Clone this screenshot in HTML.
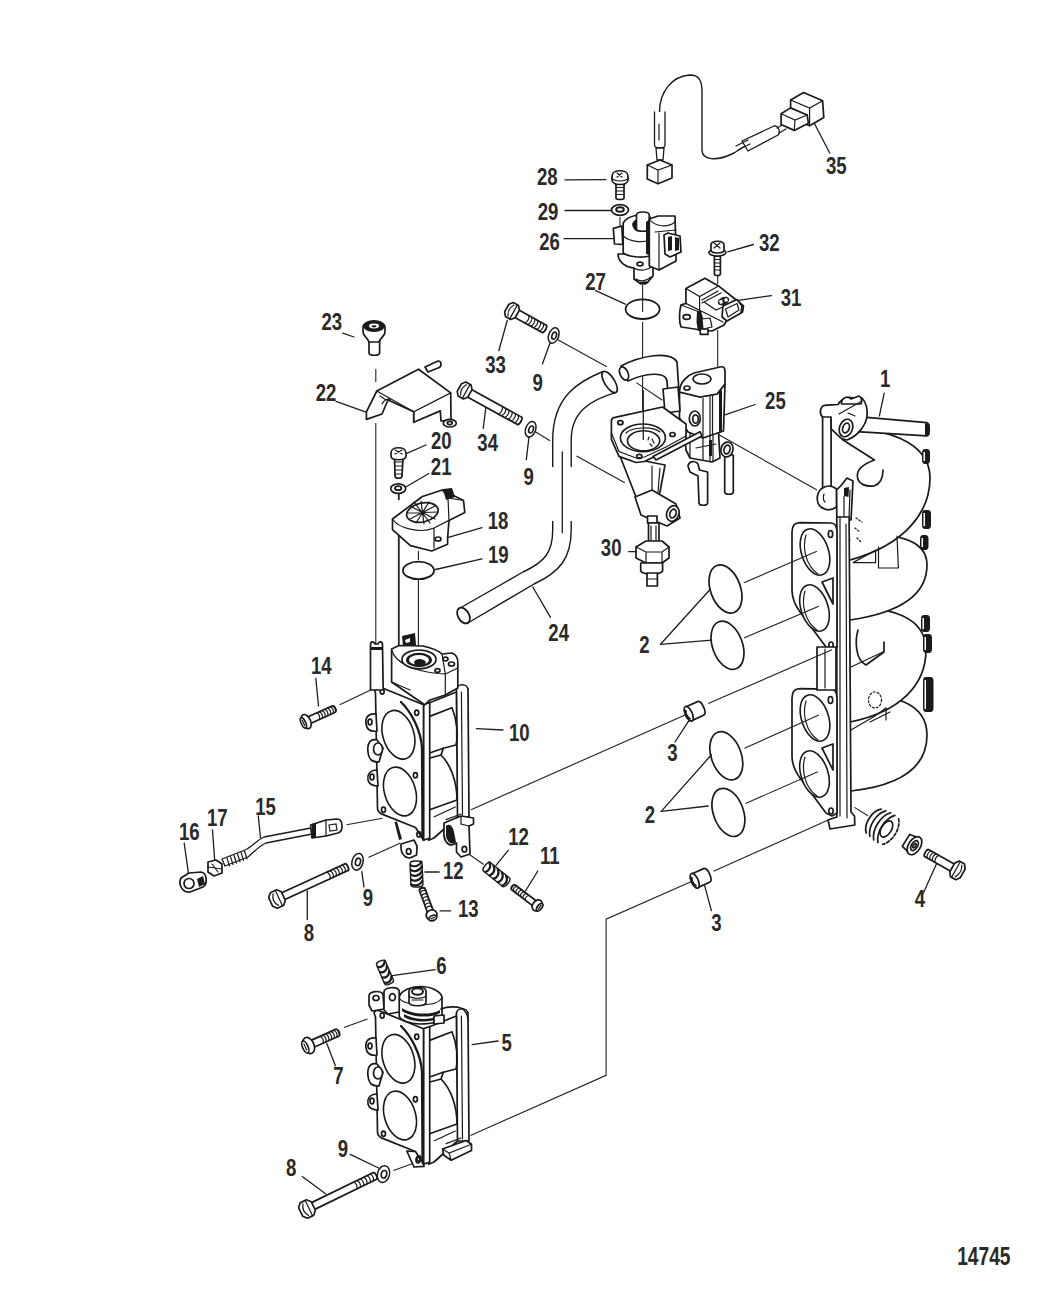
<!DOCTYPE html>
<html><head><meta charset="utf-8"><style>
html,body{margin:0;padding:0;background:#fff;}
body{width:1055px;height:1311px;overflow:hidden;}
svg{display:block;}
.lb{font-family:"Liberation Sans",sans-serif;font-weight:bold;font-size:200px;fill:#2a2a2a;}
.ld{fill:none;stroke:#1e1e1e;stroke-width:1.3;stroke-linecap:round;}
.as{fill:none;stroke:#222;stroke-width:1.1;}
.k{fill:#fff;stroke:#1a1a1a;stroke-width:1.7;stroke-linejoin:round;stroke-linecap:round;}
.n{fill:none;stroke:#1a1a1a;stroke-width:1.7;stroke-linejoin:round;stroke-linecap:round;}
.t{fill:none;stroke:#1a1a1a;stroke-width:1.2;stroke-linecap:round;}
.b{fill:#1a1a1a;stroke:none;}
.w{fill:#fff;stroke:none;}
</style></head><body>
<svg width="1055" height="1311" viewBox="0 0 1055 1311">
<path class="as" style="stroke-width:1.8" d="M398.8,494 L398.8,500 M398.8,531 L398.8,648"/>
<path class="ld" d="M814.3,123.3 L829.7,153"/>
<path class="ld" d="M565,179.9 L606,179.6"/>
<path class="ld" d="M565,210.5 L611,210.5"/>
<path class="ld" d="M564,238.6 L613,238.6"/>
<path class="ld" d="M595.7,290.6 L625.3,304.2"/>
<path class="ld" d="M727.7,251.8 L753.5,244.5"/>
<path class="ld" d="M738.3,300.3 L771.5,295.6"/>
<path class="ld" d="M725,414.9 L755.2,404.5"/>
<path class="ld" d="M884.2,393.2 L879.4,415.9"/>
<path class="ld" d="M498.8,350.7 L507.3,320.3"/>
<path class="ld" d="M542.4,364 L550,343"/>
<path class="ld" d="M483.2,428.4 L486,406.6"/>
<path class="ld" d="M526.3,459.7 L529.1,436"/>
<path class="ld" d="M342.7,333.2 L354,337"/>
<path class="ld" d="M336,401.4 L365.4,411.8"/>
<path class="ld" d="M406.2,453.6 L426,445"/>
<path class="ld" d="M406.2,486.7 L428.9,473.5"/>
<path class="ld" d="M447.6,537.7 L482,527.7"/>
<path class="ld" d="M435.6,569.5 L482,558.9"/>
<path class="ld" d="M628.7,551.6 L636,551.6"/>
<path class="ld" d="M550.5,617.3 L532.8,587"/>
<path class="ld" d="M660.5,644.3 L710.5,589"/>
<path class="ld" d="M660.5,644.3 L711.6,640.1"/>
<path class="ld" d="M315.8,678.3 L318.5,706"/>
<path class="ld" d="M476.4,728.7 L503,730"/>
<path class="ld" d="M675,742 L691,717.4"/>
<path class="ld" d="M661.2,811.4 L711.4,754.8"/>
<path class="ld" d="M661.2,811.4 L708.2,806"/>
<path class="ld" d="M258.3,816 L260.5,837.8"/>
<path class="ld" d="M212.5,830 L214.7,860.7"/>
<path class="ld" d="M184.2,843.2 L188.5,873.7"/>
<path class="ld" d="M508.4,850.2 L496,865.4"/>
<path class="ld" d="M537.8,871 L525.5,891"/>
<path class="ld" d="M425,872 L439.2,872"/>
<path class="ld" d="M361.8,871.6 L364,886.8"/>
<path class="ld" d="M307.3,891.2 L307.3,919.5"/>
<path class="ld" d="M440.1,910.9 L450.6,910.9"/>
<path class="ld" d="M923.4,893.1 L937,862.8"/>
<path class="ld" d="M703.9,882.9 L711.4,910.7"/>
<path class="ld" d="M392.1,975.7 L435.2,969.6"/>
<path class="ld" d="M472.2,1044.7 L498,1041"/>
<path class="ld" d="M326.8,1043.5 L335.4,1065.7"/>
<path class="ld" d="M350.2,1154.4 L378.6,1168"/>
<path class="ld" d="M302.2,1176.6 L325.6,1193.8"/>
<path class="as" d="M642.6,285 L642.6,312"/>
<path class="as" d="M642.6,322 L642.6,437"/>
<path class="as" d="M717.7,275 L717.7,284"/>
<path class="as" d="M717.7,330 L717.7,369"/>
<path class="as" d="M620,217 L620,228"/>
<path class="as" d="M553.7,337.4 L606.8,366.8"/>
<path class="as" d="M636.3,382.6 L662.4,400.3"/>
<path class="as" d="M532.9,430.3 L550,440.7"/>
<path class="as" d="M576.5,455.9 L624.8,482.7"/>
<path class="as" d="M692.6,420 L817,490"/>
<path class="as" d="M375.8,369 L375.8,382"/>
<path class="as" d="M375.8,423 L375.8,645"/>
<path class="as" d="M418.4,551 L418.4,560"/>
<path class="as" d="M418.4,580 L418.4,662"/>
<path class="as" d="M339.7,704.8 L370.2,690.2"/>
<path class="as" d="M346.6,824.7 L382.6,818.2"/>
<path class="as" d="M368.4,857.4 L400,843.2"/>
<path class="as" d="M471,809.7 L686.8,714.2"/>
<path class="as" d="M693.2,880.8 L606.1,919.2 L606.1,1075.3 L470.5,1135.5"/>
<path class="as" d="M854.4,807.4 L868,815.8"/>
<path class="as" d="M344,1027.5 L367.5,1018.9"/>
<path class="as" d="M393.4,1170.4 L414.3,1163"/>
<path class="as" d="M464.8,851.2 L483.7,864.5"/>
<path class="w" d="M850,700 C890,690 927,703 927,735 C927,765 905,785 851,791 Z"/>
<path class="n" d="M850,700 C890,690 927,703 927,735 C927,765 905,785 851,791"/>
<path class="w" d="M850,612 C890,604 926,618 926,650 C926,685 900,712 850,722 Z"/>
<path class="n" d="M850,612 C890,604 926,618 926,650 C926,685 900,712 850,722"/>
<path class="w" d="M850,540 C890,530 927,538 927,565 C927,592 905,612 850,620 Z"/>
<path class="n" d="M850,540 C890,530 927,538 927,565 C927,592 905,612 850,620"/>
<path class="w" d="M852,430 C880,428 930,440 930,478 C930,512 905,545 850,560 Z"/>
<path class="n" d="M852,430 C880,428 930,440 930,478 C930,512 905,545 850,560"/>
<path class="t" d="M853,562.6 L875.6,550.2 L875.6,562.6 Z M878.5,547 L878.5,568 L898.4,568 L897,536"/>
<path class="n" d="M858,630 C855,640 855,660 866,665 L884,652 L884,642"/>
<path class="t" d="M851,667 L883,652"/>
<ellipse class="t" cx="875" cy="700" rx="6.5" ry="8" style="stroke-dasharray:2 2"/>
<path class="t" d="M851,730 L875,716 L886,708 L886,720 M870,722 L890,712"/>
<path class="t" d="M856,518 L862,522 M855,528 L860,532 M857,538 L861,542" style="stroke-dasharray:1.5 2"/>
<rect class="b" x="922" y="449" width="8" height="15" rx="3" ry="4"/>
<path class="w" d="M923.5,452 L925,452 L925,461 L923.5,461 Z"/>
<rect class="b" x="922" y="510" width="9" height="19" rx="3" ry="4"/>
<path class="w" d="M923.5,513 L925,513 L925,526 L923.5,526 Z"/>
<rect class="b" x="920" y="535" width="8.5" height="15" rx="3" ry="4"/>
<path class="w" d="M921.5,538 L923,538 L923,547 L921.5,547 Z"/>
<rect class="b" x="921" y="615" width="9" height="17" rx="3" ry="4"/>
<path class="w" d="M922.5,618 L924,618 L924,629 L922.5,629 Z"/>
<rect class="b" x="923" y="634" width="9" height="19" rx="3" ry="4"/>
<path class="w" d="M924.5,637 L926,637 L926,650 L924.5,650 Z"/>
<rect class="b" x="923" y="677" width="10.5" height="35" rx="3" ry="4"/>
<path class="w" d="M924.5,680 L926,680 L926,709 L924.5,709 Z"/>
<path class="k" d="M858,416.6 L926.8,422.6 C930,423 930,436 926.8,435.8 L852.5,431.3 C852,425 854,419 858,416.6 Z"/>
<path class="b" d="M925,423 L929.5,424 L929.5,435 L925,435.5 Z"/>
<path class="k" d="M822.6,414 L831.1,414 L831.1,489 L822.6,489 Z"/>
<path class="k" d="M822.6,417 C819,414 820,407 824,405.5 C827,404.5 832,405 838,404.5 C842,398 850,396 856,399 L862,398 C866,402 868,410 867,416 C866,425 858,436 847,440 L841.5,438.6 L831.1,428.8 L831.1,417 Z"/>
<path class="k" d="M841.5,404 C841,398 848,395 851,399 L859,396 C862,397 862,402 861,404 Z"/>
<path class="t" d="M839,414 L862,401 M848,413 L855,416"/>
<ellipse class="k" cx="846" cy="428" rx="6.5" ry="9" transform="rotate(20 846 428)"/>
<ellipse class="n" cx="846" cy="428" rx="3.2" ry="5" transform="rotate(20 846 428)"/>
<path class="n" d="M842.7,439.8 L874.5,460 C866,463 857,468 857.4,476 C857.4,484 866,487 874,486 C880,484 883,478 883,470"/>
<path class="k" d="M836.6,489 C832,485 826,485 821,489 C816,494 816,503 821,507 C826,511 832,510 836.6,507 Z"/>
<path class="t" d="M824,494 C823,497 823,500 825,502"/>
<path class="k" d="M836.6,490 L841.5,485 L847,478 L853,481 L851,520 L836.8,520 Z"/>
<path class="b" d="M844,488 L849,487 L848.5,497 L844,496 Z"/>
<path class="t" d="M844,496 L844,520 M850,490 L849,518"/>
<path class="k" d="M836.8,517 L849.1,517 L851,812 L854.5,816 L854.8,825 L830,829 L828,820 L836.8,817 Z"/>
<path class="t" d="M840,517 L840,816 M846,524 L847,818"/>
<path class="k" d="M800,522.7 L831,523 C836,523 837,528 837,533 L837,647 L832,650 L826,647 L800,612 C795,605 792,598 792,590 L792,532 C792,526 795,522.7 800,522.7 Z"/>
<ellipse class="k" cx="815" cy="552" rx="13.5" ry="24" transform="rotate(-18 815 552)" style="stroke-width:1.6"/>
<path class="t" d="M806,535 C802,548 806,566 818,574"/>
<ellipse class="k" cx="814.5" cy="608" rx="13.5" ry="24" transform="rotate(-18 814.5 608)" style="stroke-width:1.6"/>
<path class="t" d="M805,591 C801,604 805,622 817,630"/>
<path class="k" d="M822,582 L833,578 L833,604 Z"/>
<ellipse class="n" cx="830.5" cy="534" rx="2.2" ry="3.5"/>
<ellipse class="n" cx="831" cy="645" rx="2.2" ry="3"/>
<path class="k" d="M800,688.7 L831,689 C836,689 837,694 837,699 L837,813 L832,816 L826,813 L800,778 C795,771 792,764 792,756 L792,698 C792,692 795,688.7 800,688.7 Z"/>
<ellipse class="k" cx="815" cy="718" rx="13.5" ry="24" transform="rotate(-18 815 718)" style="stroke-width:1.6"/>
<path class="t" d="M806,701 C802,714 806,732 818,740"/>
<ellipse class="k" cx="814.5" cy="774" rx="13.5" ry="24" transform="rotate(-18 814.5 774)" style="stroke-width:1.6"/>
<path class="t" d="M805,757 C801,770 805,788 817,796"/>
<path class="k" d="M822,748 L833,744 L833,770 Z"/>
<ellipse class="n" cx="830.5" cy="700" rx="2.2" ry="3.5"/>
<ellipse class="n" cx="831" cy="811" rx="2.2" ry="3"/>
<path class="k" d="M817,647 L836,647 L836,690 L817,690 Z"/>
<path class="t" d="M825,649 L825,688"/>
<ellipse class="n" cx="725.5" cy="589" rx="15" ry="25" transform="rotate(-20 725.5 589)" style="stroke-width:1.7"/>
<ellipse class="n" cx="727.5" cy="645.3" rx="15" ry="25" transform="rotate(-20 727.5 645.3)" style="stroke-width:1.7"/>
<ellipse class="n" cx="726.3" cy="755.8" rx="15" ry="25" transform="rotate(-20 726.3 755.8)" style="stroke-width:1.7"/>
<ellipse class="n" cx="728.4" cy="812.4" rx="15" ry="25" transform="rotate(-20 728.4 812.4)" style="stroke-width:1.7"/>
<g transform="translate(696,710.5) rotate(-24)"><path class="k" d="M-8,-7.5 L5,-7.5 C9.5,-7.5 9.5,7.5 5,7.5 L-8,7.5 Z"/><ellipse class="k" cx="-8" cy="0" rx="3.5" ry="8"/><path class="n" d="M-9.5,-4 C-11,-1 -11,2 -9,5" style="stroke-width:2"/></g>
<g transform="translate(702,877.5) rotate(-24)"><path class="k" d="M-8,-7.5 L5,-7.5 C9.5,-7.5 9.5,7.5 5,7.5 L-8,7.5 Z"/><ellipse class="k" cx="-8" cy="0" rx="3.5" ry="8"/><path class="n" d="M-9.5,-4 C-11,-1 -11,2 -9,5" style="stroke-width:2"/></g>
<g transform="translate(884.7,827.9) rotate(32)"><path class="n" d="M-13,-14 C-20,-8 -20,8 -13,14"/><path class="n" d="M-8,-15 C-15,-8 -15,8 -8,15"/><path class="n" d="M-3,-16 C-10,-8 -10,8 -3,16"/><path class="n" d="M2,-16 C-5,-8 -5,8 2,16"/><path class="n" d="M7,-15 C14,-8 14,8 7,15" style="stroke-dasharray:3 2"/><ellipse class="n" cx="2" cy="0" rx="5" ry="9"/></g>
<g transform="translate(912.8,844.6) rotate(32)"><path class="k" d="M-8,-7 L2,-9 L2,9 L-8,7 Z"/><ellipse class="k" cx="2" cy="0" rx="6" ry="10"/><ellipse class="n" cx="2" cy="0" rx="3" ry="5.5"/><ellipse class="n" cx="2" cy="0" rx="1.2" ry="2.5"/></g>
<g transform="translate(957.5,870.4) rotate(-150.7)"><path class="k" d="M4,-4.0 L35.5,-4.0 C37.5,-4.0 37.5,4.0 35.5,4.0 L4,4.0 Z"/><path class="t" d="M23.5,-4.0 C25.5,-2.0 25.5,2.0 23.5,4.0"/><path class="t" d="M26.5,-4.0 C28.5,-2.0 28.5,2.0 26.5,4.0"/><path class="t" d="M29.5,-4.0 C31.5,-2.0 31.5,2.0 29.5,4.0"/><path class="t" d="M32.5,-4.0 C34.5,-2.0 34.5,2.0 32.5,4.0"/><path class="t" d="M35.5,-4.0 C37.5,-2.0 37.5,2.0 35.5,4.0"/><path class="k" d="M-6.0,-4.95 L-3.0,-9.0 L3.0,-9.0 L6.0,-4.95 L6.0,4.95 L3.0,9.0 L-3.0,9.0 L-6.0,4.95 Z"/><path class="t" d="M1.7999999999999998,-9.0 L1.7999999999999998,9.0 M-1.2000000000000002,-6.75 C-3.5999999999999996,-2.6999999999999997 -3.5999999999999996,2.6999999999999997 -1.2000000000000002,6.75"/></g>
<g transform="translate(512.0,311.0) rotate(29.0)"><path class="k" d="M4,-4.25 L36.9,-4.25 C38.9,-4.25 38.9,4.25 36.9,4.25 L4,4.25 Z"/><path class="t" d="M16.9,-4.25 C18.9,-2.125 18.9,2.125 16.9,4.25"/><path class="t" d="M20.3,-4.25 C22.3,-2.125 22.3,2.125 20.3,4.25"/><path class="t" d="M23.6,-4.25 C25.6,-2.125 25.6,2.125 23.6,4.25"/><path class="t" d="M26.9,-4.25 C28.9,-2.125 28.9,2.125 26.9,4.25"/><path class="t" d="M30.3,-4.25 C32.3,-2.125 32.3,2.125 30.3,4.25"/><path class="t" d="M33.6,-4.25 C35.6,-2.125 35.6,2.125 33.6,4.25"/><path class="t" d="M36.9,-4.25 C38.9,-2.125 38.9,2.125 36.9,4.25"/><path class="k" d="M-6.0,-4.4 L-3.0,-8.0 L3.0,-8.0 L6.0,-4.4 L6.0,4.4 L3.0,8.0 L-3.0,8.0 L-6.0,4.4 Z"/><path class="t" d="M1.7999999999999998,-8.0 L1.7999999999999998,8.0 M-1.2000000000000002,-6.0 C-3.5999999999999996,-2.4 -3.5999999999999996,2.4 -1.2000000000000002,6.0"/></g>
<g transform="translate(464.6,390.5) rotate(28.9)"><path class="k" d="M4,-4.25 L62.8,-4.25 C64.8,-4.25 64.8,4.25 62.8,4.25 L4,4.25 Z"/><path class="t" d="M40.8,-4.25 C42.8,-2.125 42.8,2.125 40.8,4.25"/><path class="t" d="M44.5,-4.25 C46.5,-2.125 46.5,2.125 44.5,4.25"/><path class="t" d="M48.1,-4.25 C50.1,-2.125 50.1,2.125 48.1,4.25"/><path class="t" d="M51.8,-4.25 C53.8,-2.125 53.8,2.125 51.8,4.25"/><path class="t" d="M55.5,-4.25 C57.5,-2.125 57.5,2.125 55.5,4.25"/><path class="t" d="M59.1,-4.25 C61.1,-2.125 61.1,2.125 59.1,4.25"/><path class="t" d="M62.8,-4.25 C64.8,-2.125 64.8,2.125 62.8,4.25"/><path class="k" d="M-6.0,-4.4 L-3.0,-8.0 L3.0,-8.0 L6.0,-4.4 L6.0,4.4 L3.0,8.0 L-3.0,8.0 L-6.0,4.4 Z"/><path class="t" d="M1.7999999999999998,-8.0 L1.7999999999999998,8.0 M-1.2000000000000002,-6.0 C-3.5999999999999996,-2.4 -3.5999999999999996,2.4 -1.2000000000000002,6.0"/></g>
<g transform="translate(553.7,335.5) rotate(20)"><ellipse class="k" cx="0" cy="0" rx="5" ry="8" style="stroke-width:1.5"/><ellipse class="n" cx="0.5" cy="0" rx="2.2" ry="3.6" style="stroke-width:1.6"/></g>
<g transform="translate(530.6,429.3) rotate(20)"><ellipse class="k" cx="0" cy="0" rx="5" ry="8" style="stroke-width:1.5"/><ellipse class="n" cx="0.5" cy="0" rx="2.2" ry="3.6" style="stroke-width:1.6"/></g>
<path class="w" d="M603,371.5 C580,381 552.7,395 552.7,440 L552.7,530 C552.7,552 545,562 523,572 L461,607.5 L467,623.5 L534,584 C560,572 571.2,558 571.2,530 L571.2,440 C571.2,412 590,400 616.3,392.4 Z"/>
<path class="n" style="stroke-width:1.4" d="M603,371.5 C580,381 552.7,395 552.7,440 L552.7,466.5 M552.7,521.5 L552.7,530 C552.7,552 545,562 523,572 L461,607.5"/>
<path class="n" style="stroke-width:1.4" d="M616.3,392.4 C590,400 571.2,412 571.2,440 L571.2,466.5 M571.2,521.5 L571.2,530 C571.2,558 560,572 534,584 L467,623.5"/>
<path class="t" d="M562.3,452 L562.3,532.5" style="stroke-width:1.3"/>
<ellipse class="k" cx="609.6" cy="382" rx="5" ry="12.2" transform="rotate(-32 609.6 382)"/>
<ellipse class="k" cx="463.5" cy="615.5" rx="5.5" ry="8.5" transform="rotate(-30 463.5 615.5)" style="stroke-width:1.8"/>
<path class="k" d="M724.7,455 L733.3,455 L733.3,492 C733.3,495 724.7,495 724.7,492 Z"/>
<ellipse class="k" cx="727" cy="449.5" rx="6" ry="7.5" transform="rotate(15 727 449.5)"/>
<ellipse class="n" cx="727" cy="449.5" rx="3" ry="4.5" transform="rotate(15 727 449.5)"/>
<path class="k" d="M688,466 C689,461 695,460 698,464 L699.5,470 L707.6,472 L707.6,503 C707.6,506 699,506 699,503 L698,476 L690,472 Z"/>
<path class="k" d="M684,428 L718,424 L720,458 L712,462 L690,458 L686,450 Z"/>
<path class="t" d="M690,430 L690,458 M703,428 L703,460 M710,427 L710,461 M713,427 L713,461 M696,448 L716,444"/>
<path class="b" d="M709,440 L712,440 L712,456 L709,456 Z"/>
<path class="k" d="M679.5,392 L679.5,418 L688,432 L703,438 L723.5,431 L725,384 L717,394 L700,397 Z"/>
<path class="t" d="M703,398 L703,437 M710,396 L710,435 M712.5,396 L712.5,435 M720,390 L720,432"/>
<path class="b" d="M719,392 L722,390 L722,431 L719,432 Z"/>
<path class="k" d="M679.5,391 C680,382 688,375 694,373 L720,367 C724,366 725,368 725,372 L725,384 L717,394 L700,397 L679.5,392 Z"/>
<ellipse class="k" cx="702" cy="379" rx="9" ry="5"/>
<ellipse class="n" cx="687" cy="388" rx="3" ry="2"/>
<ellipse class="k" cx="694.8" cy="418.5" rx="5.5" ry="7.5"/>
<ellipse class="n" cx="695.5" cy="419" rx="2.8" ry="4.2"/>
<path class="k" d="M621,366 C640,356 670,350 677,362 L679,392 L668,394 L667,381 C666,371 645,373 628,381 Z"/>
<ellipse class="k" cx="624" cy="373.5" rx="4" ry="7" transform="rotate(-25 624 373.5)"/>
<path class="k" d="M663,389 L678,387 L680,411 L665,413 Z"/>
<path class="k" d="M620,456 L636,497 L652,506 L660,492 L665,465 Z"/>
<path class="t" d="M652,466 L652,496 M660,468 L658,492"/>
<path class="k" d="M611.4,421 C611.4,418.5 613,417.6 615,417.3 L662.6,407 L686,424 L686,440 L666.4,450.7 L644.5,461.5 L636,462.5 L619,456.4 L611.4,439.3 Z"/>
<path class="t" d="M611.4,433 L619,451.6 L636,458 L644.5,457 L666,447 L686,436"/>
<ellipse class="k" cx="642.9" cy="437.8" rx="22.5" ry="13.8" style="stroke-width:1.6"/>
<ellipse class="n" cx="643.6" cy="440.8" rx="16.1" ry="10" style="stroke-width:1.6"/>
<path class="t" d="M626,433 C632,427 652,426 660,432"/>
<path class="t" d="M649,437 L648,440 M652,439 L654,443 M650,444 L652,446"/>
<ellipse class="n" cx="620.4" cy="422.7" rx="2.6" ry="2"/><ellipse class="n" cx="639.3" cy="456.4" rx="2.6" ry="2"/><ellipse class="n" cx="672.5" cy="434.5" rx="2.6" ry="2"/>
<path class="as" d="M643.3,390 L643.3,440" style="stroke-width:1.3"/>
<path class="k" d="M653,456.4 L700,431.7 L702,436 L656,460 Z"/>
<path class="k" d="M635,497 L652,490 L676,504 L680,518 L667,526 L641,515 Z"/>
<ellipse class="k" cx="672.8" cy="513.5" rx="6" ry="8" transform="rotate(20 672.8 513.5)"/>
<ellipse class="n" cx="673" cy="513.5" rx="3" ry="4.5" transform="rotate(20 672.8 513.5)"/>
<path class="k" d="M647.5,516 L657,516 L657,523 L647.5,523 Z"/>
<path class="k" d="M648.5,523 L659,523 L659,545 L648.5,545 Z"/>
<path class="t" d="M651,526 L651,541 M656,526 L656,541"/>
<path class="k" d="M636,547 L646,541 L662,541 L669,547 L669,558 L662,563 L646,563 L636,558 Z"/>
<path class="t" d="M636,547 L646,552 L662,552 L669,547 M646,552 L646,563 M662,552 L662,563"/>
<path class="k" d="M640.7,563 L662.6,563 L662.6,571 C660,575 643,575 640.7,571 Z"/>
<path class="k" d="M647,573 L657.4,573 L657.4,586 L647,586 Z"/>
<path class="t" d="M647,579 L657.4,579"/>
<path class="n" style="stroke-width:1.4" d="M659.5,112 C659.5,92 672,76 690,75 C700,75 702,82 702,92 L702,150 C702,160 716,162 734,153 L745,146"/>
<path class="k" style="stroke-width:1.3" d="M654.5,112 L654.5,145 C654.5,149 665,149 665,145 L665,112"/>
<path class="t" d="M659,124 L659,140"/>
<path class="k" style="stroke-width:1.3" d="M656,148 L657,160 L663,160 L664,148 Z"/>
<path class="k" d="M647.3,165 L660,160 L672,165 L672,178 L658,183.7 L647.3,179 Z"/>
<path class="t" d="M647.3,165 L658,170 L672,165 M658,170 L658,183.7"/>
<path class="k" style="stroke-width:1.3" d="M742,141 L774,126 C778,125 781,132 778,135 L748,151 Z"/>
<path class="t" d="M736,146 L748,140 M738,150 L750,144"/>
<path class="t" d="M777,128 L784,124 M779,133 L786,129"/>
<path class="k" d="M790.6,100 L803.6,92.5 L822.6,100.8 L823.8,117.4 L809.6,125.7 L790.6,118 Z"/>
<path class="t" d="M790.6,100 L809.6,108 L822.6,100.8 M809.6,108 L809.6,125.7"/>
<path class="k" d="M781.1,113.8 L790.6,107.9 L807.2,115 L808.4,123.3 L794.2,130.4 L781.1,124.5 Z"/>
<path class="t" d="M781.1,113.8 L795,120 L807.2,115 M795,120 L794.2,130.4"/>
<path class="k" d="M616,184 L624,184 L624,198 C624,200 616,200 616,198 Z"/>
<path class="t" d="M616,187.5 L624,187.5 M616,191 L624,191 M616,194.5 L624,194.5"/>
<path class="k" d="M612,176 C612,169 628,169 628,176 L628,180 C628,186 612,186 612,180 Z"/>
<path class="t" d="M612,178 C614,182 626,182 628,178 M617,173 L622,177 M622,173 L617,177"/>
<ellipse class="k" cx="620" cy="210" rx="8.5" ry="5.3"/>
<ellipse class="n" cx="620" cy="209.5" rx="3.8" ry="2.2" style="stroke-width:2"/>
<path class="k" d="M618,254 C618,263 628,268 634,268 L634,279 L641,284 L647,283 L653,276 L653,266 C656,262 656,258 655,254 Z"/>
<path class="t" d="M634,268 C640,272 648,270 653,266 M636,279 C640,282 647,281 651,277"/>
<ellipse class="n" cx="640" cy="264" rx="3" ry="1.8"/>
<path class="b" d="M637,282 L645,285 L650,281 Z"/>
<path class="k" d="M613.3,228.4 L621.8,226 L622.8,244.5 L614.5,244 Z"/>
<path class="k" d="M623.2,223 C628,215 642,213 650,217 L650,256 C642,258 628,257 623.2,253 Z"/>
<path class="t" d="M623.2,236 C630,242 642,243 650,240"/>
<path class="b" d="M632,224 C634,219 638,218 641,219 L641,231 C637,233 633,230 632,224 Z"/>
<path class="k" d="M636.5,215 C636.5,211 649.3,211 649.3,215 L649.3,229 C649.3,232 636.5,232 636.5,229 Z"/>
<path class="b" d="M646,222 L650,219 L650,255 L646,254 Z"/>
<path class="k" d="M649.3,219 L658,216 L675,216 L676,253 L676,261 L659,270 L649.3,266 Z"/>
<path class="t" d="M649.3,219 C655,227 668,228 675,222 M659,233 L659,270 M655,232 L676,230"/>
<path class="k" d="M664,235 L668,233 L680,236 L681,252 L670,257 L665,254 Z"/>
<path class="b" d="M668,237 L672,236 L672,250 L668,251 Z M675,237 L679,238 L679,250 L675,251 Z"/>
<ellipse class="n" cx="642.6" cy="309.2" rx="17" ry="9.8" style="stroke-width:1.8"/>
<path class="k" d="M714.4,256 L720.4,256 L720.4,274 C720.4,276 714.4,276 714.4,274 Z"/>
<path class="t" d="M714.4,259.5 L720.4,259.5 M714.4,263 L720.4,263 M714.4,266.5 L720.4,266.5 M714.4,270 L720.4,270"/>
<ellipse class="k" cx="717.4" cy="252.5" rx="8.5" ry="3.6"/>
<path class="k" d="M711,250 L711,245 C711,240 724,240 724,245 L724,250 C724,254 711,254 711,250 Z"/>
<path class="t" d="M714,243 L720,248 M720,243 L714,248"/>
<path class="k" d="M681,305 C679,312 679,322 681,327 L688,328 L701,330 L712,331 L724,325 L727,320 L742.5,312 L743.5,306 L735,299 L718.5,285.9 L704.9,278.3 L685.9,288.6 L685.9,303.4 Z"/>
<path class="t" d="M685.9,288.6 L699.6,296.5 L718.5,285.9 M699.6,296.5 L699.6,310.2 L685.9,303.4 M702,300 L718,291 M702,303 L721,293 M699.6,310.2 L723,322 M704,302 L716,310 L725,306"/>
<path class="k" d="M723,306 L737,299.5 L742,306 L741,313 L727,321 L722,317 Z"/>
<path class="n" d="M725.5,309 L737,303.5 L739,310 L728,317 Z" style="stroke-width:1.2"/>
<ellipse class="b" cx="723.5" cy="301" rx="6" ry="3.8" transform="rotate(-25 723.5 301)"/>
<path class="w" d="M719,301 L722,299.5 L723,303 L720,304 Z M724,299 L727,297.8 L728,301 L725,302 Z"/>
<path class="t" d="M681,305 L699.6,312"/>
<ellipse class="n" cx="686.7" cy="317" rx="3.6" ry="2.4"/>
<path class="b" d="M697,311 L701,311 L703,318 L704,330 L698,331 L696.5,322 Z"/>
<path class="k" d="M700.3,329 L708,329 L708,334.4 L700.3,334.4 Z"/>
<path class="k" d="M702,319 L710,318 L712,327 L703,329 Z" style="stroke-width:1.2"/>
<path class="k" d="M369,340 L379.6,340 L379.6,353 C379.6,356 369,356 369,353 Z"/>
<path class="k" d="M363,327 C363,321 385,321 385,327 L385,332 C385,336 380,338 379,342 L369,342 C368,338 363,336 363,332 Z"/>
<ellipse class="b" cx="374" cy="326" rx="11" ry="6"/>
<ellipse class="w" cx="374" cy="326" rx="5" ry="2.4"/>
<ellipse class="b" cx="374" cy="326.3" rx="2.5" ry="1.1"/>
<path class="k" d="M376.8,391 L418.5,369.2 L450.7,392.9 L451,420 L441,421 L440.3,410.9 L413.7,422.3 L413.7,411.8 L388,400 L382,414 L366.4,419.4 L366.4,411.8 Z"/>
<path class="t" d="M376.8,391 L413.7,411.8 L450.7,392.9 M413.7,411.8 L413.7,422.3 M380,396 L386,400 M382,404 C384,400 388,398 390,400"/>
<path class="k" d="M425,367 L438,361 C442,361 442,367 438,368 L428,372 Z"/>
<ellipse class="k" cx="449.8" cy="423.2" rx="6.5" ry="3.8"/><ellipse class="n" cx="449.8" cy="423" rx="2.5" ry="1.6"/>
<path class="k" d="M394.5,458 L403,458 L402,476 C402,479 395,479 395,476 Z"/>
<path class="t" d="M394.8,462 L402.8,462 M394.8,466 L402.6,466 M395,470 L402.4,470 M395,474 L402.2,474"/>
<path class="k" d="M391,453 C391,446 406,446 406,453 L406,456 C406,461 391,461 391,456 Z"/>
<path class="t" d="M395,450 L402,454 M402,450 L395,454"/>
<ellipse class="k" cx="398.2" cy="488.6" rx="7.5" ry="4.7"/><ellipse class="n" cx="398.2" cy="488.2" rx="3.2" ry="2" style="stroke-width:1.8"/>
<path class="k" d="M392.5,519 L422.4,496.5 L442.3,490 L463.5,500.5 L464.8,512.5 L449,520.4 L447.6,538 L447.6,544.3 L431.7,551 L410.4,545.6 L392.5,529.7 Z"/>
<path class="t" d="M392.5,519 C398,528 420,534 434,528 L449,520.4 M434,528 L434,548 M442.3,490 L448,498 L463.5,500.5 M448,498 L449,520.4"/>
<ellipse class="k" cx="422.4" cy="512.5" rx="16" ry="9.5" transform="rotate(-12 422.4 512.5)"/>
<path class="t" d="M410,506 L435,519 M414,502 L430,523 M421,501 L424,524 M429,502 L416,523 M435,506 L410,519 M438,512 L407,513"/>
<path class="b" d="M443,489 L452,488 L455,497 L446,500 Z"/>
<ellipse class="n" cx="438" cy="539" rx="3" ry="2"/>
<ellipse class="n" cx="418.5" cy="570.4" rx="15.5" ry="8.8" style="stroke-width:1.8"/>
<path class="k" d="M456.4,690 C456.4,683 468,683 468,690 L469,817 L457,817 Z"/>
<path class="t" d="M461.4,692 L462.5,815"/>
<path class="k" d="M424.6,704.8 L456.4,692 L457.5,817 L434,838 L428.6,840.2 Z"/>
<path class="n" d="M429.6,716.4 L452,707.7 C457,720 458.5,735 456,745 L443.3,748.3 L429.6,753"/>
<path class="n" d="M443.3,748.3 L441,755 L430,758 M441,755 C451,765 457,782 457,800 L430.3,809.5"/>
<path class="t" d="M434.3,816.7 L455.3,807 M446.2,819.6 L461,814"/>
<path class="k" d="M444,823 L461,816 L473.5,818 L473.5,824 L469,826 L470,854 L461,857 L456.5,852 L456.5,843 L452,845 C446,845 443,838 444,830 Z"/>
<path class="b" d="M446,826 C449,823 453,826 454,832 L456,842 C452,846 447,842 446,836 Z"/>
<ellipse class="n" cx="464.4" cy="849.2" rx="2.3" ry="2.8"/>
<path class="t" d="M461,816 L461,824 L469,826"/>
<path class="k" d="M401,844 L414,840 L417,846 L416.6,855 L410,858 C404,858 401,852 401,848 Z"/>
<ellipse class="n" cx="408.7" cy="851.4" rx="2.3" ry="2.8"/>
<path class="b" d="M394.5,822 L397,821.5 L402,839 L399,840 Z"/>
<path class="k" d="M423.5,704.8 L429.7,702.5 L429.7,838 L423.5,840.2 Z"/>
<path class="k" d="M374,689 C375,686 378,686 380,687 L423.5,704.8 L423.5,840.2 L415.5,827.5 L381.4,813.9 C378,812 377.5,810 377.5,808 L375.5,693 Z"/>
<path class="n" style="stroke-width:2.3" d="M401,702 C411,712 421,730 422,748 L422.5,836"/>
<ellipse class="k" cx="398.4" cy="734.8" rx="15.5" ry="25" transform="rotate(-17 398.4 734.8)" style="stroke-width:1.6"/>
<ellipse class="k" cx="400" cy="791.5" rx="15.5" ry="25" transform="rotate(-17 400 791.5)" style="stroke-width:1.6"/>
<ellipse class="n" cx="382.2" cy="691.6" rx="2" ry="2.6"/>
<ellipse class="n" cx="416.7" cy="712.8" rx="2" ry="2.6"/>
<ellipse class="n" cx="415.4" cy="775.2" rx="2" ry="2.6"/>
<ellipse class="n" cx="383.5" cy="809.7" rx="2" ry="2.6"/>
<ellipse class="n" cx="418.9" cy="834.4" rx="2" ry="2.6"/>
<path class="k" d="M376,714 C368,713 365,718 366,724 C367,730 371,732 377,731 Z"/>
<ellipse class="n" cx="370" cy="722" rx="2" ry="2.8"/>
<path class="k" d="M377,740 C370,738 367,744 368,752 C369,760 372,762 379,762 L383,748 Z"/>
<ellipse class="k" cx="378" cy="749" rx="4.5" ry="6"/>
<path class="k" d="M377,770 C369,770 367,776 368,780 C369,784 372,786 378,786 Z"/>
<ellipse class="n" cx="372" cy="777" rx="2" ry="2.8"/>
<path class="k" d="M370.5,645 C370.5,641 374,641 375,644 L378,644 C379,641 382.5,641 382.5,645 L383.2,690 L370.5,690 Z"/>
<path class="b" d="M370.5,647 L383,647 L383,650 L370.5,650 Z"/>
<path class="k" d="M391.6,649 L399,645.5 L423,646 C432,648 438,650 442,654 L452,653 C457,655 458,660 457.8,663 L457.8,688 L445.3,695 L430,700 L424.6,704.8 L391.6,682 Z"/>
<path class="t" d="M391.6,650 C395,662 412,671 438,673.5 L445.3,674 L445.3,695 M442,654 L445.3,674 M445.3,674 L457.8,668 M391.6,682 L410,690"/>
<ellipse class="k" cx="419" cy="659.4" rx="17" ry="9.4"/>
<ellipse class="b" cx="419" cy="660" rx="13" ry="7.2"/>
<ellipse class="w" cx="419" cy="660" rx="10" ry="5"/>
<path class="b" d="M414,662 C416,658 423,658 426,662 L424,666 L415,666 Z"/>
<ellipse class="n" cx="445.5" cy="659" rx="2.5" ry="1.8"/><ellipse class="n" cx="451.5" cy="664" rx="3" ry="2"/><ellipse class="n" cx="437.5" cy="670.5" rx="2.5" ry="1.8"/>
<path class="b" d="M402,636 L415,633 L416,645 L403,646 Z"/>
<path class="w" d="M405,640 L410,638 L410,642 L406,643 Z"/>
<g transform="translate(305.2,722.0) rotate(-24.3)"><path class="k" d="M3,-3.5 L31.0,-3.5 C33.5,-3.5 33.5,3.5 31.0,3.5 L3,3.5 Z"/><path class="t" d="M14.0,-3.5 C16.0,-1.75 16.0,1.75 14.0,3.5"/><path class="t" d="M17.0,-3.5 C19.0,-1.75 19.0,1.75 17.0,3.5"/><path class="t" d="M20.0,-3.5 C22.0,-1.75 22.0,1.75 20.0,3.5"/><path class="t" d="M23.0,-3.5 C25.0,-1.75 25.0,1.75 23.0,3.5"/><path class="t" d="M26.0,-3.5 C28.0,-1.75 28.0,1.75 26.0,3.5"/><path class="t" d="M29.0,-3.5 C31.0,-1.75 31.0,1.75 29.0,3.5"/><path class="t" d="M32.0,-3.5 C34.0,-1.75 34.0,1.75 32.0,3.5"/><ellipse class="k" cx="1.0" cy="0" rx="4.5" ry="7.5"/><ellipse class="k" cx="-2.0" cy="0" rx="2.2" ry="5.6"/><path class="t" d="M-2.0,-3.0 L-2.0,3.0"/></g>
<path class="k" style="stroke-width:1.3" d="M222,859 L245,850 C252,847 257,840 264,837 L311,828 L312,834 L266,843 C259,846 254,852 248,857 L225,866 Z"/>
<path class="t" d="M227.0,858.0 L229.5,866.0"/>
<path class="t" d="M230.5,856.6 L233.0,864.6"/>
<path class="t" d="M234.0,855.2 L236.5,863.2"/>
<path class="t" d="M237.5,853.8 L240.0,861.8"/>
<path class="t" d="M241.0,852.4 L243.5,860.4"/>
<path class="t" d="M244.5,851.0 L247.0,859.0"/>
<path class="k" d="M310.6,825 L326,820 L337,819 C343,819 344,831 338,833 L326,836 L312,838 Z"/>
<path class="b" d="M312,824 L316,823 L316,838 L312,838 Z"/>
<path class="t" d="M326,820 L326,836 M329,825 L336,824 L337,830 L330,831 Z"/>
<path class="k" d="M208,862 L216,860 L222,864 L222,873 L214,876 L208,872 Z"/>
<path class="t" d="M212,864 L218,872 M208,867 L222,869"/>
<path class="k" d="M181,878 C178,884 182,893 190,892 L203,887 C208,884 207,873 201,872 L189,873 Z"/>
<ellipse class="n" cx="189" cy="883.5" rx="5" ry="5"/>
<path class="b" d="M197,879 L203,876 L205,884 L199,887 Z"/>
<g transform="translate(277.0,899.0) rotate(-24.6)"><path class="k" d="M4,-3.75 L76.5,-3.75 C78.5,-3.75 78.5,3.75 76.5,3.75 L4,3.75 Z"/><path class="t" d="M56.5,-3.75 C58.5,-1.875 58.5,1.875 56.5,3.75"/><path class="t" d="M59.9,-3.75 C61.9,-1.875 61.9,1.875 59.9,3.75"/><path class="t" d="M63.2,-3.75 C65.2,-1.875 65.2,1.875 63.2,3.75"/><path class="t" d="M66.5,-3.75 C68.5,-1.875 68.5,1.875 66.5,3.75"/><path class="t" d="M69.9,-3.75 C71.9,-1.875 71.9,1.875 69.9,3.75"/><path class="t" d="M73.2,-3.75 C75.2,-1.875 75.2,1.875 73.2,3.75"/><path class="t" d="M76.5,-3.75 C78.5,-1.875 78.5,1.875 76.5,3.75"/><path class="k" d="M-7.0,-4.675000000000001 L-3.5,-8.5 L3.5,-8.5 L7.0,-4.675000000000001 L7.0,4.675000000000001 L3.5,8.5 L-3.5,8.5 L-7.0,4.675000000000001 Z"/><path class="t" d="M2.1,-8.5 L2.1,8.5 M-1.4000000000000001,-6.375 C-4.2,-2.55 -4.2,2.55 -1.4000000000000001,6.375"/></g>
<g transform="translate(357.5,861.8) rotate(15)"><ellipse class="k" cx="0" cy="0" rx="5.5" ry="8.5" style="stroke-width:1.5"/><ellipse class="n" cx="0.5" cy="0" rx="2.5" ry="3.8" style="stroke-width:1.6"/></g>
<g transform="translate(416.0,862.0) rotate(87.6)"><rect class="k" x="-1" y="-6" width="26.0" height="12" rx="2.5" ry="4.8" style="stroke-width:1.4"/><path class="n" style="stroke-width:2.2" d="M-0.1,-5.5 C4.9,-3.0 4.9,3.0 2.9,5.5"/><path class="n" style="stroke-width:2.2" d="M4.7,-5.5 C9.7,-3.0 9.7,3.0 7.7,5.5"/><path class="n" style="stroke-width:2.2" d="M9.5,-5.5 C14.5,-3.0 14.5,3.0 12.5,5.5"/><path class="n" style="stroke-width:2.2" d="M14.3,-5.5 C19.3,-3.0 19.3,3.0 17.3,5.5"/><path class="n" style="stroke-width:2.2" d="M19.1,-5.5 C24.1,-3.0 24.1,3.0 22.1,5.5"/></g>
<g transform="translate(432.0,916.0) rotate(-110.3)"><path class="k" d="M3,-3.0 L27.8,-3.0 C30.3,-3.0 30.3,3.0 27.8,3.0 L3,3.0 Z"/><path class="t" d="M8.8,-3.0 C10.8,-1.5 10.8,1.5 8.8,3.0"/><path class="t" d="M12.1,-3.0 C14.1,-1.5 14.1,1.5 12.1,3.0"/><path class="t" d="M15.5,-3.0 C17.5,-1.5 17.5,1.5 15.5,3.0"/><path class="t" d="M18.8,-3.0 C20.8,-1.5 20.8,1.5 18.8,3.0"/><path class="t" d="M22.1,-3.0 C24.1,-1.5 24.1,1.5 22.1,3.0"/><path class="t" d="M25.5,-3.0 C27.5,-1.5 27.5,1.5 25.5,3.0"/><path class="t" d="M28.8,-3.0 C30.8,-1.5 30.8,1.5 28.8,3.0"/><ellipse class="k" cx="1.1" cy="0" rx="5.0" ry="5.5"/><ellipse class="k" cx="-2.2" cy="0" rx="2.5" ry="4.1"/><path class="t" d="M-2.2,-2.2 L-2.2,2.2"/></g>
<g transform="translate(486.0,866.0) rotate(39.0)"><rect class="k" x="-1" y="-5.5" width="29.0" height="11.0" rx="2.5" ry="4.4" style="stroke-width:1.4"/><path class="n" style="stroke-width:2.2" d="M0.2,-5.0 C5.2,-2.8 5.2,2.8 3.2,5.0"/><path class="n" style="stroke-width:2.2" d="M5.6,-5.0 C10.6,-2.8 10.6,2.8 8.6,5.0"/><path class="n" style="stroke-width:2.2" d="M11.0,-5.0 C16.0,-2.8 16.0,2.8 14.0,5.0"/><path class="n" style="stroke-width:2.2" d="M16.4,-5.0 C21.4,-2.8 21.4,2.8 19.4,5.0"/><path class="n" style="stroke-width:2.2" d="M21.8,-5.0 C26.8,-2.8 26.8,2.8 24.8,5.0"/></g>
<g transform="translate(538.0,906.0) rotate(-142.8)"><path class="k" d="M3,-3.0 L30.4,-3.0 C32.9,-3.0 32.9,3.0 30.4,3.0 L3,3.0 Z"/><path class="t" d="M13.4,-3.0 C15.4,-1.5 15.4,1.5 13.4,3.0"/><path class="t" d="M16.4,-3.0 C18.4,-1.5 18.4,1.5 16.4,3.0"/><path class="t" d="M19.4,-3.0 C21.4,-1.5 21.4,1.5 19.4,3.0"/><path class="t" d="M22.4,-3.0 C24.4,-1.5 24.4,1.5 22.4,3.0"/><path class="t" d="M25.4,-3.0 C27.4,-1.5 27.4,1.5 25.4,3.0"/><path class="t" d="M28.4,-3.0 C30.4,-1.5 30.4,1.5 28.4,3.0"/><path class="t" d="M31.4,-3.0 C33.4,-1.5 33.4,1.5 31.4,3.0"/><ellipse class="k" cx="1.0" cy="0" rx="4.5" ry="6.0"/><ellipse class="k" cx="-2.0" cy="0" rx="2.2" ry="4.5"/><path class="t" d="M-2.0,-2.4 L-2.0,2.4"/></g>
<g transform="translate(0,324)"><path class="k" d="M456.4,690 C456.4,683 468,683 468,690 L469,817 L457,817 Z"/>
<path class="t" d="M461.4,692 L462.5,815"/>
<path class="k" d="M424.6,704.8 L456.4,692 L457.5,817 L434,838 L428.6,840.2 Z"/>
<path class="n" d="M429.6,716.4 L452,707.7 C457,720 458.5,735 456,745 L443.3,748.3 L429.6,753"/>
<path class="n" d="M443.3,748.3 L441,755 L430,758 M441,755 C451,765 457,782 457,800 L430.3,809.5"/>
<path class="t" d="M434.3,816.7 L455.3,807 M446.2,819.6 L461,814"/>
<g transform="translate(0,-324)">
<path class="k" d="M442.6,1149 L466,1140.5 L471.5,1144.2 L471.5,1150.4 L451.2,1160.2 L443.8,1155.3 Z"/>
<path class="t" d="M442.6,1149 L449,1153 L471.5,1144.2 M449,1153 L451.2,1160.2"/>
<path class="k" d="M406.8,1151 L421,1152 L424,1166.4 L414,1167 Z"/>
<ellipse class="n" cx="418" cy="1160" rx="2" ry="2.8"/>
</g>
<path class="k" d="M423.5,704.8 L429.7,702.5 L429.7,838 L423.5,840.2 Z"/>
<path class="k" d="M374,689 C375,686 378,686 380,687 L423.5,704.8 L423.5,840.2 L415.5,827.5 L381.4,813.9 C378,812 377.5,810 377.5,808 L375.5,693 Z"/>
<path class="n" style="stroke-width:2.3" d="M401,702 C411,712 421,730 422,748 L422.5,836"/>
<ellipse class="k" cx="398.4" cy="734.8" rx="15.5" ry="25" transform="rotate(-17 398.4 734.8)" style="stroke-width:1.6"/>
<ellipse class="k" cx="400" cy="791.5" rx="15.5" ry="25" transform="rotate(-17 400 791.5)" style="stroke-width:1.6"/>
<ellipse class="n" cx="382.2" cy="691.6" rx="2" ry="2.6"/>
<ellipse class="n" cx="416.7" cy="712.8" rx="2" ry="2.6"/>
<ellipse class="n" cx="415.4" cy="775.2" rx="2" ry="2.6"/>
<ellipse class="n" cx="383.5" cy="809.7" rx="2" ry="2.6"/>
<ellipse class="n" cx="418.9" cy="834.4" rx="2" ry="2.6"/>
<path class="k" d="M376,714 C368,713 365,718 366,724 C367,730 371,732 377,731 Z"/>
<ellipse class="n" cx="370" cy="722" rx="2" ry="2.8"/>
<path class="k" d="M377,740 C370,738 367,744 368,752 C369,760 372,762 379,762 L383,748 Z"/>
<ellipse class="k" cx="378" cy="749" rx="4.5" ry="6"/>
<path class="k" d="M377,770 C369,770 367,776 368,780 C369,784 372,786 378,786 Z"/>
<ellipse class="n" cx="372" cy="777" rx="2" ry="2.8"/></g>
<path class="k" d="M369,996 C369,991 380,990 383,994 L384,1009 L372,1011 L369,1005 Z"/>
<ellipse class="n" cx="376" cy="998" rx="3" ry="2.5"/>
<path class="k" d="M399.2,998 C400,990 412,986.5 420.3,986.5 C432,986.5 442,992 442,998 L442,1016 C440,1022 430,1024 420,1024 C410,1024 400,1020 399.2,1016 Z"/>
<path class="t" d="M399.2,998 C403,1006 436,1008 442,998"/>
<path class="b" d="M402,1008 C410,1014 430,1016 440,1010 L440,1013 C430,1019 410,1017 402,1011 Z"/>
<path class="b" d="M404,1014 C412,1019 428,1021 438,1016 L438,1019 C428,1023 412,1022 404,1017 Z"/>
<path class="k" d="M409,991 C409,986 426,986 426,991 L426,1002 C426,1007 409,1007 409,1002 Z"/>
<ellipse class="n" cx="417.5" cy="991.5" rx="5.5" ry="3.2" style="stroke-width:2"/>
<path class="t" d="M409,996 C412,999 423,999 426,996 M412,1000 L423,1000"/>
<path class="k" d="M384,992 C384,987 398,986 399.2,991 L399.2,1012 L388,1014 L384,1010 Z"/>
<ellipse class="n" cx="392.4" cy="997.2" rx="3" ry="3.5"/>
<path class="k" d="M434,1016 L444,1015 L444,1023 L434,1024 Z"/>
<path class="n" d="M441,1009 C448,1006 460,1006 464,1010 C467,1013 468,1016 468,1020" style="stroke-width:1.6"/>
<g transform="translate(380.5,962.0) rotate(66.8)"><rect class="k" x="-1" y="-4.8" width="24.8" height="9.6" rx="2.5" ry="3.8" style="stroke-width:1.4"/><path class="n" style="stroke-width:2.2" d="M0.4,-4.3 C5.4,-2.4 5.4,2.4 3.4,4.3"/><path class="n" style="stroke-width:2.2" d="M6.1,-4.3 C11.1,-2.4 11.1,2.4 9.1,4.3"/><path class="n" style="stroke-width:2.2" d="M11.8,-4.3 C16.8,-2.4 16.8,2.4 14.8,4.3"/><path class="n" style="stroke-width:2.2" d="M17.5,-4.3 C22.5,-2.4 22.5,2.4 20.5,4.3"/></g>
<g transform="translate(307.5,1046.0) rotate(-24.0)"><path class="k" d="M3,-3.75 L32.4,-3.75 C34.9,-3.75 34.9,3.75 32.4,3.75 L3,3.75 Z"/><path class="t" d="M15.4,-3.75 C17.4,-1.875 17.4,1.875 15.4,3.75"/><path class="t" d="M18.4,-3.75 C20.4,-1.875 20.4,1.875 18.4,3.75"/><path class="t" d="M21.4,-3.75 C23.4,-1.875 23.4,1.875 21.4,3.75"/><path class="t" d="M24.4,-3.75 C26.4,-1.875 26.4,1.875 24.4,3.75"/><path class="t" d="M27.4,-3.75 C29.4,-1.875 29.4,1.875 27.4,3.75"/><path class="t" d="M30.4,-3.75 C32.4,-1.875 32.4,1.875 30.4,3.75"/><path class="t" d="M33.4,-3.75 C35.4,-1.875 35.4,1.875 33.4,3.75"/><ellipse class="k" cx="1.2" cy="0" rx="5.4" ry="8.5"/><ellipse class="k" cx="-2.4" cy="0" rx="2.7" ry="6.4"/><path class="t" d="M-2.4,-3.4 L-2.4,3.4"/></g>
<g transform="translate(307.0,1209.0) rotate(-25.9)"><path class="k" d="M4,-3.75 L75.6,-3.75 C77.6,-3.75 77.6,3.75 75.6,3.75 L4,3.75 Z"/><path class="t" d="M53.6,-3.75 C55.6,-1.875 55.6,1.875 53.6,3.75"/><path class="t" d="M57.3,-3.75 C59.3,-1.875 59.3,1.875 57.3,3.75"/><path class="t" d="M60.9,-3.75 C62.9,-1.875 62.9,1.875 60.9,3.75"/><path class="t" d="M64.6,-3.75 C66.6,-1.875 66.6,1.875 64.6,3.75"/><path class="t" d="M68.3,-3.75 C70.3,-1.875 70.3,1.875 68.3,3.75"/><path class="t" d="M71.9,-3.75 C73.9,-1.875 73.9,1.875 71.9,3.75"/><path class="t" d="M75.6,-3.75 C77.6,-1.875 77.6,1.875 75.6,3.75"/><path class="k" d="M-7.0,-4.675000000000001 L-3.5,-8.5 L3.5,-8.5 L7.0,-4.675000000000001 L7.0,4.675000000000001 L3.5,8.5 L-3.5,8.5 L-7.0,4.675000000000001 Z"/><path class="t" d="M2.1,-8.5 L2.1,8.5 M-1.4000000000000001,-6.375 C-4.2,-2.55 -4.2,2.55 -1.4000000000000001,6.375"/></g>
<g transform="translate(383.5,1174.1) rotate(15)"><ellipse class="k" cx="0" cy="0" rx="6" ry="8.5" style="stroke-width:1.5"/><ellipse class="n" cx="0.5" cy="0" rx="2.7" ry="3.8" style="stroke-width:1.6"/></g>
<path class="as" d="M708.2,703.5 L832,649.8"/>
<path class="as" d="M743.9,582.8 L816.9,551.2"/>
<path class="as" d="M743.9,638 L818.8,606.2"/>
<path class="as" d="M744.5,748.3 L818.8,715"/>
<path class="as" d="M745.5,803.5 L817.8,771.8"/>
<path class="as" d="M713.5,871.2 L830,819.2"/>
<text class="lb" transform="matrix(0.09296 0 0 0.12394 826.03 174.35)">35</text>
<text class="lb" transform="matrix(0.09296 0 0 0.12394 536.99 185.30)">28</text>
<text class="lb" transform="matrix(0.09296 0 0 0.12394 537.68 219.75)">29</text>
<text class="lb" transform="matrix(0.09296 0 0 0.12394 539.18 249.55)">26</text>
<text class="lb" transform="matrix(0.09296 0 0 0.12394 585.27 289.58)">27</text>
<text class="lb" transform="matrix(0.09296 0 0 0.12394 758.97 250.80)">32</text>
<text class="lb" transform="matrix(0.09296 0 0 0.12394 780.68 306.35)">31</text>
<text class="lb" transform="matrix(0.09296 0 0 0.12394 765.09 409.35)">25</text>
<text class="lb" transform="matrix(0.09296 0 0 0.12394 880.07 387.05)">1</text>
<text class="lb" transform="matrix(0.09296 0 0 0.12394 485.22 373.00)">33</text>
<text class="lb" transform="matrix(0.09296 0 0 0.12394 532.49 390.50)">9</text>
<text class="lb" transform="matrix(0.09296 0 0 0.12394 477.35 451.15)">34</text>
<text class="lb" transform="matrix(0.09296 0 0 0.12394 523.49 484.75)">9</text>
<text class="lb" transform="matrix(0.09296 0 0 0.12394 321.43 330.35)">23</text>
<text class="lb" transform="matrix(0.09296 0 0 0.12394 315.73 401.08)">22</text>
<text class="lb" transform="matrix(0.09296 0 0 0.12394 430.98 448.85)">20</text>
<text class="lb" transform="matrix(0.09296 0 0 0.12394 430.84 474.58)">21</text>
<text class="lb" transform="matrix(0.09296 0 0 0.12394 487.76 529.35)">18</text>
<text class="lb" transform="matrix(0.09296 0 0 0.12394 487.90 563.25)">19</text>
<text class="lb" transform="matrix(0.09296 0 0 0.12394 600.82 556.45)">30</text>
<text class="lb" transform="matrix(0.09296 0 0 0.12394 548.30 641.08)">24</text>
<text class="lb" transform="matrix(0.09296 0 0 0.12394 639.19 653.48)">2</text>
<text class="lb" transform="matrix(0.09296 0 0 0.12394 310.92 673.55)">14</text>
<text class="lb" transform="matrix(0.09296 0 0 0.12394 509.00 740.55)">10</text>
<text class="lb" transform="matrix(0.09296 0 0 0.12394 667.33 760.55)">3</text>
<text class="lb" transform="matrix(0.09296 0 0 0.12394 644.84 822.68)">2</text>
<text class="lb" transform="matrix(0.09296 0 0 0.12394 255.21 814.58)">15</text>
<text class="lb" transform="matrix(0.09296 0 0 0.12394 206.95 825.60)">17</text>
<text class="lb" transform="matrix(0.09296 0 0 0.12394 179.00 839.80)">16</text>
<text class="lb" transform="matrix(0.09296 0 0 0.12394 508.25 845.18)">12</text>
<text class="lb" transform="matrix(0.09296 0 0 0.12394 539.92 863.55)">11</text>
<text class="lb" transform="matrix(0.09296 0 0 0.12394 442.90 878.83)">12</text>
<text class="lb" transform="matrix(0.09296 0 0 0.12394 362.69 906.25)">9</text>
<text class="lb" transform="matrix(0.09296 0 0 0.12394 303.79 940.60)">8</text>
<text class="lb" transform="matrix(0.09296 0 0 0.12394 457.95 916.60)">13</text>
<text class="lb" transform="matrix(0.09296 0 0 0.12394 914.75 907.35)">4</text>
<text class="lb" transform="matrix(0.09296 0 0 0.12394 711.13 931.05)">3</text>
<text class="lb" transform="matrix(0.09296 0 0 0.12394 436.24 974.45)">6</text>
<text class="lb" transform="matrix(0.09296 0 0 0.12394 501.49 1050.73)">5</text>
<text class="lb" transform="matrix(0.09296 0 0 0.12394 333.34 1084.10)">7</text>
<text class="lb" transform="matrix(0.09296 0 0 0.12394 337.69 1156.75)">9</text>
<text class="lb" transform="matrix(0.09296 0 0 0.12394 285.94 1176.45)">8</text>
<text class="lb big" transform="matrix(0.09591 0 0 0.12429 957.15 1265.35)">14745</text>
</svg>
</body></html>
